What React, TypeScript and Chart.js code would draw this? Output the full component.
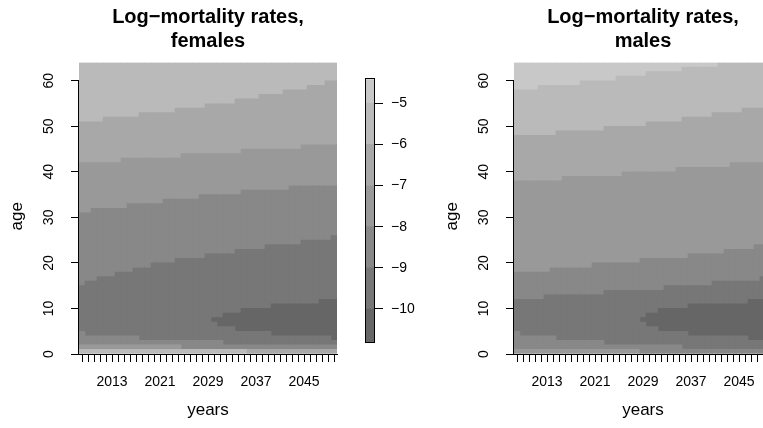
import React, { useEffect, useRef } from 'react';
import { Chart, registerables } from 'chart.js';

Chart.register(...registerables);

const FONT = '"Liberation Sans", Arial, Helvetica, sans-serif';

// ---- axes / legend data ----
const years = [
  '2008', '2009', '2010', '2011', '2012', '2013', '2014', '2015', '2016', '2017',
  '2018', '2019', '2020', '2021', '2022', '2023', '2024', '2025', '2026', '2027',
  '2028', '2029', '2030', '2031', '2032', '2033', '2034', '2035', '2036', '2037',
  '2038', '2039', '2040', '2041', '2042', '2043', '2044', '2045', '2046', '2047',
  '2048', '2049', '2050',
];
const yearTickLabels = ['2013', '2021', '2029', '2037', '2045'];
const ageTicks = [0, 10, 20, 30, 40, 50, 60];
const ageMax = 64;
const legendTicks = [-10, -9, -8, -7, -6, -5];
const levelBreaks = [-10.81, -10, -9, -8, -7, -6, -5, -4.42];
const levelColors = ['#666666', '#777777', '#888888', '#999999', '#a8a8a8', '#bababa', '#c8c8c8'];

// ---- females: level of the age-0 row and band boundaries (age) per year ----
const femAge0Level = [
  5, 5, 5, 5, 5, 5, 5, 5, 5, 5,
  5, 5, 5, 5, 5, 5, 5, 5, 5, 5,
  5, 5, 5, 5, 5, 5, 5, 5, 4, 4,
  4, 4, 4, 4, 4, 4, 4, 4, 4, 4,
  4, 4, 4,
];
const femLow99Top = [
  2, 2, 2, 2, 2, 2, 2, 2, 2, 2,
  2, 2, 2, 2, 2, 2, 2, 1, 1, 1,
  1, 1, 1, 1, 1, 1, 1, 1, 1, 1,
  1, 1, 1, 1, 1, 1, 1, 1, 1, 1,
  1, 1, 1,
];
const femLow88Top = [
  5, 4, 4, 4, 4, 4, 4, 4, 4, 4,
  3, 3, 3, 3, 3, 3, 3, 3, 3, 3,
  3, 3, 3, 3, 2, 2, 2, 2, 2, 2,
  2, 2, 2, 2, 2, 2, 2, 2, 2, 2,
  2, 2, 2,
];
const femIslandBottom = [
  null, null, null, null, null, null, null, null, null, null,
  null, null, null, null, null, null, null, null, null, null,
  null, null, 7, 6, 6, 6, 5, 5, 5, 5,
  5, 5, 4, 4, 4, 4, 4, 4, 4, 4,
  4, 4, 3,
];
const femIslandTop = [
  null, null, null, null, null, null, null, null, null, null,
  null, null, null, null, null, null, null, null, null, null,
  null, null, 8, 8, 9, 9, 9, 10, 10, 10,
  10, 10, 11, 11, 11, 11, 11, 11, 11, 11,
  12, 12, 12,
];
const fem77Top = [
  15, 16, 16, 17, 17, 17, 18, 18, 18, 19,
  19, 19, 20, 20, 20, 20, 21, 21, 21, 21,
  21, 22, 22, 22, 22, 22, 23, 23, 23, 23,
  23, 24, 24, 24, 24, 24, 24, 25, 25, 25,
  25, 25, 26,
];
const fem88Top = [
  31, 31, 32, 32, 32, 32, 32, 32, 33, 33,
  33, 33, 33, 33, 34, 34, 34, 34, 34, 34,
  35, 35, 35, 35, 35, 35, 35, 36, 36, 36,
  36, 36, 36, 36, 36, 37, 37, 37, 37, 37,
  37, 37, 37,
];
const fem99Top = [
  42, 42, 42, 42, 42, 42, 42, 43, 43, 43,
  43, 43, 43, 43, 43, 43, 43, 44, 44, 44,
  44, 44, 44, 44, 44, 44, 44, 45, 45, 45,
  45, 45, 45, 45, 45, 45, 45, 46, 46, 46,
  46, 46, 46,
];
const femA8Top = [
  51, 51, 51, 51, 52, 52, 52, 52, 52, 52,
  53, 53, 53, 53, 53, 53, 54, 54, 54, 54,
  54, 55, 55, 55, 55, 55, 56, 56, 56, 56,
  57, 57, 57, 57, 58, 58, 58, 58, 59, 59,
  59, 60, 60,
];

// ---- males ----
const maleAge0Level = [
  3, 3, 3, 3, 3, 3, 3, 3, 3, 3,
  3, 3, 3, 3, 3, 3, 3, 3, 3, 3,
  3, 2, 2, 2, 2, 2, 2, 2, 2, 2,
  2, 2, 2, 2, 2, 2, 2, 2, 2, 2,
  2, 2, 2,
];
const maleLow88Top = [
  5, 4, 4, 4, 4, 4, 4, 3, 3, 3,
  3, 3, 3, 3, 3, 2, 2, 2, 2, 2,
  2, 2, 2, 2, 2, 2, 2, 2, 1, 1,
  1, 1, 1, 1, 1, 1, 1, 1, 1, 1,
  1, 1, 1,
];
const maleIslandBottom = [
  null, null, null, null, null, null, null, null, null, null,
  null, null, null, null, null, null, null, null, null, null,
  null, 7, 6, 6, 5, 5, 5, 5, 5, 4,
  4, 4, 4, 4, 4, 4, 4, 4, 4, 3,
  3, 3, 3,
];
const maleIslandTop = [
  null, null, null, null, null, null, null, null, null, null,
  null, null, null, null, null, null, null, null, null, null,
  null, 8, 9, 9, 10, 10, 10, 10, 10, 11,
  11, 11, 11, 11, 11, 11, 11, 11, 11, 12,
  12, 12, 12,
];
const male77Top = [
  12, 12, 12, 12, 12, 13, 13, 13, 13, 13,
  13, 13, 13, 13, 13, 14, 14, 14, 14, 14,
  14, 14, 14, 14, 14, 15, 15, 15, 15, 15,
  15, 15, 15, 16, 16, 16, 16, 16, 16, 16,
  16, 17, 17,
];
const male88Top = [
  18, 18, 18, 18, 18, 18, 19, 19, 19, 19,
  19, 19, 19, 20, 20, 20, 20, 20, 20, 20,
  20, 21, 21, 21, 21, 21, 21, 21, 21, 22,
  22, 22, 22, 22, 22, 23, 23, 23, 23, 23,
  24, 24, 24,
];
const male99Top = [
  38, 38, 38, 38, 38, 38, 38, 38, 39, 39,
  39, 39, 39, 39, 39, 39, 39, 39, 40, 40,
  40, 40, 40, 40, 40, 40, 40, 41, 41, 41,
  41, 41, 41, 41, 41, 41, 42, 42, 42, 42,
  42, 42, 42,
];
const maleA8Top = [
  48, 48, 48, 48, 48, 48, 48, 49, 49, 49,
  49, 49, 49, 49, 49, 50, 50, 50, 50, 50,
  50, 50, 51, 51, 51, 51, 51, 51, 52, 52,
  52, 52, 52, 53, 53, 53, 53, 53, 54, 54,
  54, 54, 54,
];
const maleBATop = [
  58, 58, 58, 58, 59, 59, 59, 59, 59, 59,
  59, 60, 60, 60, 60, 60, 60, 61, 61, 61,
  61, 61, 62, 62, 62, 62, 62, 62, 63, 63,
  63, 63, 63, 63, 64, 64, 64, 64, 64, 64,
  64, 64, 64,
];

type Bound = number | (number | null)[];
const at = (b: Bound, i: number): number | null => (typeof b === 'number' ? b : b[i]);
const either = (a: (number | null)[], b: number[]) => b.map((v, i) => (a[i] ?? v));

function seg(lo: Bound, hi: Bound, level: number | number[]) {
  const data = years.map((_, i) => {
    const l = at(lo, i);
    const h = at(hi, i);
    if (l == null || h == null || h <= l) return null;
    return [l, h];
  });
  const bg = typeof level === 'number' ? levelColors[level] : level.map((lv) => levelColors[lv]);
  return {
    data,
    backgroundColor: bg,
    borderWidth: 0,
    barPercentage: 1,
    categoryPercentage: 1,
    grouped: false,
  };
}

const femaleDatasets = () => [
  seg(0, 1, femAge0Level),
  seg(1, femLow99Top, 3),
  seg(femLow99Top, femLow88Top, 2),
  seg(femLow88Top, either(femIslandBottom, fem77Top), 1),
  seg(femIslandBottom, femIslandTop, 0),
  seg(femIslandTop, fem77Top, 1),
  seg(fem77Top, fem88Top, 2),
  seg(fem88Top, fem99Top, 3),
  seg(fem99Top, femA8Top, 4),
  seg(femA8Top, ageMax, 5),
];

const maleDatasets = () => [
  seg(0, 1, maleAge0Level),
  seg(1, maleLow88Top, 2),
  seg(maleLow88Top, either(maleIslandBottom, male77Top), 1),
  seg(maleIslandBottom, maleIslandTop, 0),
  seg(maleIslandTop, male77Top, 1),
  seg(male77Top, male88Top, 2),
  seg(male88Top, male99Top, 3),
  seg(male99Top, maleA8Top, 4),
  seg(maleA8Top, maleBATop, 5),
  seg(maleBATop, ageMax, 6),
];

function panelPlugin(title1: string, title2: string) {
  return {
    id: 'panelDecor',
    afterDraw(chart: any) {
      const { ctx, chartArea, scales } = chart;
      const ys = scales.y;
      const cx = (chartArea.left + chartArea.right) / 2;
      ctx.save();
      ctx.strokeStyle = '#000';
      ctx.lineWidth = 1;
      ctx.beginPath();
      ctx.moveTo(chartArea.left - 0.5, ys.getPixelForValue(0));
      ctx.lineTo(chartArea.left - 0.5, ys.getPixelForValue(60));
      ctx.stroke();

      ctx.fillStyle = '#000';
      ctx.textAlign = 'center';
      ctx.textBaseline = 'alphabetic';
      ctx.font = `bold 20px ${FONT}`;
      ctx.fillText(title1, cx, 22.5);
      ctx.fillText(title2, cx, 47);

      ctx.font = `17px ${FONT}`;
      ctx.fillText('years', cx, 415);

      ctx.font = `14px ${FONT}`;
      for (const v of ageTicks) {
        const py = ys.getPixelForValue(v);
        ctx.save();
        ctx.translate(chartArea.left - 26.5, py);
        ctx.rotate(-Math.PI / 2);
        ctx.fillText(String(v), 0, 0);
        ctx.restore();
      }

      ctx.font = `17px ${FONT}`;
      ctx.save();
      ctx.translate(chartArea.left - 57, (chartArea.top + chartArea.bottom) / 2 + 8);
      ctx.rotate(-Math.PI / 2);
      ctx.fillText('age', 0, 0);
      ctx.restore();
      ctx.restore();
    },
  };
}

function panelConfig(datasets: any[], title2: string): any {
  return {
    type: 'bar',
    data: { labels: years, datasets },
    options: {
      animation: false,
      responsive: false,
      events: [],
      layout: { padding: { left: 0, top: 62.5, right: 390 - 337, bottom: 0 } },
      plugins: { legend: { display: false }, tooltip: { enabled: false }, title: { display: false } },
      scales: {
        x: {
          type: 'category',
          offset: true,
          grid: { display: true, drawOnChartArea: false, drawTicks: true, tickLength: 8, color: '#000', offset: false },
          border: { display: true, color: '#000', width: 1 },
          ticks: {
            autoSkip: false,
            maxRotation: 0,
            minRotation: 0,
            padding: 12,
            color: '#000',
            font: { family: FONT, size: 14 },
            callback: (_v: any, i: number) => (yearTickLabels.includes(years[i]) ? years[i] : ''),
          },
          afterFit: (s: any) => { s.height = 74; },
        },
        y: {
          type: 'linear',
          min: 0,
          max: ageMax,
          afterBuildTicks: (s: any) => { s.ticks = ageTicks.map((v) => ({ value: v })); },
          ticks: { display: false },
          grid: { display: true, drawOnChartArea: false, drawTicks: true, tickLength: 8, color: '#000' },
          border: { display: false },
          afterFit: (s: any) => { s.width = 79; },
        },
      },
    },
    plugins: [panelPlugin('Log\u2212mortality rates,', title2)],
  };
}

const framePlugin = {
  id: 'frame',
  afterDraw(chart: any) {
    const { ctx, chartArea } = chart;
    ctx.save();
    ctx.strokeStyle = '#000';
    ctx.lineWidth = 1;
    ctx.strokeRect(
      Math.round(chartArea.left) - 0.5,
      Math.round(chartArea.top) - 0.5,
      Math.round(chartArea.right - chartArea.left) + 1,
      Math.round(chartArea.bottom - chartArea.top) + 1,
    );
    ctx.restore();
  },
};

function legendConfig(): any {
  return {
    type: 'bar',
    data: {
      labels: [''],
      datasets: levelColors.map((c, i) => ({
        data: [[levelBreaks[i], levelBreaks[i + 1]]],
        backgroundColor: c,
        borderWidth: 0,
        barPercentage: 1,
        categoryPercentage: 1,
        grouped: false,
      })),
    },
    options: {
      animation: false,
      responsive: false,
      events: [],
      layout: { padding: { left: 26, top: 79.3, right: 0, bottom: 428 - 342.3 } },
      plugins: { legend: { display: false }, tooltip: { enabled: false } },
      scales: {
        x: { display: false },
        y: {
          position: 'right',
          min: levelBreaks[0],
          max: levelBreaks[levelBreaks.length - 1],
          afterBuildTicks: (s: any) => { s.ticks = legendTicks.map((v) => ({ value: v })); },
          ticks: {
            padding: 8,
            color: '#000',
            font: { family: FONT, size: 14 },
            callback: (v: number) => '\u2212' + Math.abs(v),
          },
          grid: { display: true, drawOnChartArea: false, drawTicks: true, tickLength: 9, color: '#000' },
          border: { display: false },
          afterFit: (s: any) => { s.width = 46; },
        },
      },
    },
    plugins: [framePlugin],
  };
}

export default function App() {
  const leftRef = useRef<HTMLCanvasElement>(null);
  const rightRef = useRef<HTMLCanvasElement>(null);
  const legRef = useRef<HTMLCanvasElement>(null);

  useEffect(() => {
    const charts = [
      new Chart(leftRef.current as HTMLCanvasElement, panelConfig(femaleDatasets(), 'females')),
      new Chart(rightRef.current as HTMLCanvasElement, panelConfig(maleDatasets(), 'males')),
      new Chart(legRef.current as HTMLCanvasElement, legendConfig()),
    ];
    return () => charts.forEach((c) => c.destroy());
  }, []);

  return (
    <div style={{ position: 'absolute', left: 0, top: 0, width: 763, height: 428, overflow: 'hidden', background: '#ffffff' }}>
      <canvas ref={leftRef} width={390} height={428} style={{ position: 'absolute', left: 0, top: 0 }} />
      <canvas ref={legRef} width={80} height={428} style={{ position: 'absolute', left: 340, top: 0 }} />
      <canvas ref={rightRef} width={390} height={428} style={{ position: 'absolute', left: 435, top: 0 }} />
    </div>
  );
}
